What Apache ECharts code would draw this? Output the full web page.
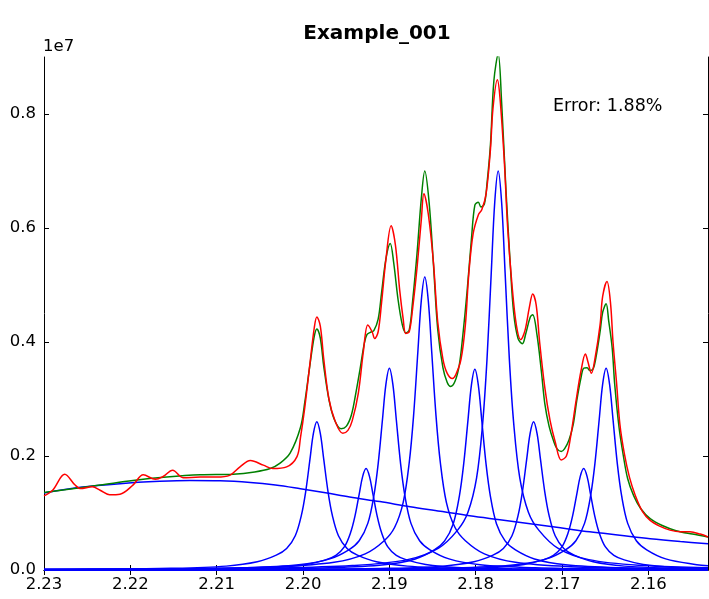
<!DOCTYPE html>
<html>
<head>
<meta charset="utf-8">
<script src="https://cdn.jsdelivr.net/npm/echarts@6.0.0/dist/echarts.min.js"></script>
<style>
html,body{margin:0;padding:0;background:#fff;}
#chart{width:709px;height:599px;}
</style>
</head>
<body>
<div id="chart"></div>
<script>
// ---- data (y in units of 1e7) ----
const xTicks = [2.16, 2.17, 2.18, 2.19, 2.20, 2.21, 2.22, 2.23];
const yTicks = [0.0, 0.2, 0.4, 0.6, 0.8];
const titleText = 'Example_001';
const errorText = 'Error: 1.88%';
const scaleText = '1e7';

const background = [[2.2300,0.135],[2.2258,0.145],[2.2212,0.1515],[2.2166,0.1555],[2.2131,0.157],[2.2096,0.1565],[2.2061,0.1535],[2.2032,0.149],[2.2003,0.1425],[2.1974,0.1355],[2.1946,0.128],[2.1911,0.120],[2.1876,0.111],[2.1841,0.103],[2.1807,0.095],[2.1772,0.088],[2.1737,0.081],[2.1702,0.074],[2.1668,0.067],[2.1633,0.061],[2.1598,0.055],[2.1563,0.050],[2.1531,0.046]];

const peak1 = [[2.2300,0.0007],[2.2247,0.0012],[2.2153,0.0029],[2.2089,0.0068],[2.2053,0.0143],[2.2031,0.0260],[2.2019,0.0377],[2.2009,0.0601],[2.2002,0.0954],[2.1997,0.1368],[2.1992,0.1940],[2.1988,0.2395],[2.1984,0.2600],[2.1980,0.2395],[2.1976,0.1940],[2.1971,0.1368],[2.1966,0.0954],[2.1959,0.0601],[2.1949,0.0377],[2.1937,0.0260],[2.1915,0.0143],[2.1879,0.0068],[2.1815,0.0029],[2.1721,0.0012],[2.1562,0.0005],[2.1531,0.0004]];
const peak2 = [[2.2300,0.0005],[2.2190,0.0009],[2.2096,0.0020],[2.2032,0.0046],[2.1996,0.0098],[2.1974,0.0178],[2.1962,0.0258],[2.1952,0.0411],[2.1945,0.0653],[2.1940,0.0936],[2.1935,0.1328],[2.1931,0.1639],[2.1927,0.1780],[2.1923,0.1639],[2.1919,0.1328],[2.1914,0.0936],[2.1909,0.0653],[2.1902,0.0411],[2.1892,0.0258],[2.1880,0.0178],[2.1858,0.0098],[2.1822,0.0046],[2.1758,0.0020],[2.1664,0.0009],[2.1531,0.0004]];
const peak3 = [[2.2300,0.0008],[2.2163,0.0017],[2.2069,0.0039],[2.2005,0.0092],[2.1969,0.0195],[2.1947,0.0354],[2.1935,0.0513],[2.1925,0.0818],[2.1918,0.1299],[2.1913,0.1862],[2.1908,0.2641],[2.1904,0.3260],[2.1900,0.3540],[2.1896,0.3260],[2.1892,0.2641],[2.1887,0.1862],[2.1882,0.1299],[2.1875,0.0818],[2.1865,0.0513],[2.1853,0.0354],[2.1831,0.0195],[2.1795,0.0092],[2.1731,0.0039],[2.1637,0.0017],[2.1531,0.0009]];
const peak4 = [[2.2300,0.0010],[2.2122,0.0025],[2.2028,0.0057],[2.1964,0.0134],[2.1928,0.0283],[2.1906,0.0514],[2.1894,0.0745],[2.1884,0.1187],[2.1877,0.1886],[2.1872,0.2704],[2.1867,0.3834],[2.1863,0.4734],[2.1859,0.5140],[2.1855,0.4734],[2.1851,0.3834],[2.1846,0.2704],[2.1841,0.1886],[2.1834,0.1187],[2.1824,0.0745],[2.1812,0.0514],[2.1790,0.0283],[2.1754,0.0134],[2.1690,0.0057],[2.1596,0.0025],[2.1531,0.0016]];
const peak5 = [[2.2300,0.0006],[2.2223,0.0007],[2.2064,0.0017],[2.1970,0.0039],[2.1906,0.0092],[2.1870,0.0194],[2.1848,0.0352],[2.1836,0.0510],[2.1826,0.0813],[2.1819,0.1292],[2.1814,0.1852],[2.1809,0.2626],[2.1805,0.3242],[2.1801,0.3520],[2.1797,0.3242],[2.1793,0.2626],[2.1788,0.1852],[2.1783,0.1292],[2.1776,0.0813],[2.1766,0.0510],[2.1754,0.0352],[2.1732,0.0194],[2.1696,0.0092],[2.1632,0.0039],[2.1531,0.0015]];
const peak6 = [[2.2300,0.0011],[2.2196,0.0014],[2.2037,0.0034],[2.1943,0.0077],[2.1879,0.0182],[2.1843,0.0385],[2.1821,0.0700],[2.1809,0.1015],[2.1799,0.1617],[2.1792,0.2569],[2.1787,0.3682],[2.1782,0.5222],[2.1778,0.6447],[2.1774,0.7000],[2.1770,0.6447],[2.1766,0.5222],[2.1761,0.3682],[2.1756,0.2569],[2.1749,0.1617],[2.1739,0.1015],[2.1727,0.0700],[2.1705,0.0385],[2.1669,0.0182],[2.1605,0.0077],[2.1531,0.0041]];
const peak7 = [[2.2300,0.0004],[2.2155,0.0005],[2.1996,0.0012],[2.1902,0.0029],[2.1838,0.0068],[2.1802,0.0143],[2.1780,0.0260],[2.1768,0.0377],[2.1758,0.0601],[2.1751,0.0954],[2.1746,0.1368],[2.1741,0.1940],[2.1737,0.2395],[2.1733,0.2600],[2.1729,0.2395],[2.1725,0.1940],[2.1720,0.1368],[2.1715,0.0954],[2.1708,0.0601],[2.1698,0.0377],[2.1686,0.0260],[2.1664,0.0143],[2.1628,0.0068],[2.1564,0.0029],[2.1531,0.0021]];
const peak8 = [[2.2300,0.0003],[2.2097,0.0004],[2.1938,0.0009],[2.1844,0.0020],[2.1780,0.0046],[2.1744,0.0098],[2.1722,0.0178],[2.1710,0.0258],[2.1700,0.0411],[2.1693,0.0653],[2.1688,0.0936],[2.1683,0.1328],[2.1679,0.1639],[2.1675,0.1780],[2.1671,0.1639],[2.1667,0.1328],[2.1662,0.0936],[2.1657,0.0653],[2.1650,0.0411],[2.1640,0.0258],[2.1628,0.0178],[2.1606,0.0098],[2.1570,0.0046],[2.1531,0.0025]];
const peak9 = [[2.2300,0.0003],[2.2071,0.0007],[2.1912,0.0017],[2.1818,0.0039],[2.1754,0.0092],[2.1718,0.0195],[2.1696,0.0354],[2.1684,0.0513],[2.1674,0.0818],[2.1667,0.1299],[2.1662,0.1862],[2.1657,0.2641],[2.1653,0.3260],[2.1649,0.3540],[2.1645,0.3260],[2.1641,0.2641],[2.1636,0.1862],[2.1631,0.1299],[2.1624,0.0818],[2.1614,0.0513],[2.1602,0.0354],[2.1580,0.0195],[2.1544,0.0092],[2.1531,0.0074]];
const zeroLine = [[2.2300,0],[2.1531,0]];

const fitSum = [[2.2300,.136],[2.2235,.149],[2.2197,.157],[2.2158,.163],[2.2119,.167],[2.2081,.168],[2.2056,.172],[2.2038,.178],[2.2027,.187],[2.2015,.205],[2.2003,.250],[2.1998,.294],[2.1992,.360],[2.1987,.410],[2.1984,.423],[2.1980,.407],[2.1976,.357],[2.1970,.299],[2.1964,.265],[2.1956,.248],[2.1950,.252],[2.1944,.272],[2.1939,.309],[2.1934,.352],[2.1929,.398],[2.1926,.413],[2.1922,.417],[2.1918,.420],[2.1913,.440],[2.1909,.487],[2.1904,.546],[2.1899,.573],[2.1895,.539],[2.1890,.475],[2.1885,.430],[2.1881,.416],[2.1877,.421],[2.1873,.473],[2.1868,.555],[2.1863,.652],[2.1859,.700],[2.1854,.645],[2.1849,.537],[2.1844,.422],[2.1838,.355],[2.1833,.329],[2.1829,.322],[2.1824,.331],[2.1819,.360],[2.1815,.411],[2.1810,.489],[2.1805,.580],[2.1801,.640],[2.1797,.645],[2.1794,.637],[2.1790,.642],[2.1787,.677],[2.1783,.745],[2.1779,.858],[2.1774,.905],[2.1770,.820],[2.1765,.667],[2.1760,.536],[2.1756,.450],[2.1751,.406],[2.1746,.397],[2.1742,.415],[2.1737,.443],[2.1734,.448],[2.1729,.412],[2.1724,.349],[2.1720,.292],[2.1715,.252],[2.1710,.227],[2.1706,.213],[2.1701,.208],[2.1697,.213],[2.1692,.228],[2.1687,.256],[2.1683,.297],[2.1678,.338],[2.1675,.354],[2.1671,.355],[2.1668,.350],[2.1664,.353],[2.1661,.371],[2.1656,.418],[2.1653,.452],[2.1649,.467],[2.1646,.437],[2.1642,.390],[2.1639,.325],[2.1634,.250],[2.1629,.200],[2.1624,.160],[2.1617,.130],[2.1609,.108],[2.1598,.090],[2.1584,.078],[2.1568,.069],[2.1549,.063],[2.1531,.058]];

const measured = [[2.2300,.130],[2.2290,.140],[2.2276,.168],[2.2264,.149],[2.2258,.143],[2.2244,.146],[2.2235,.140],[2.2224,.132],[2.2212,.133],[2.2197,.149],[2.2185,.167],[2.2171,.159],[2.2162,.164],[2.2151,.175],[2.2139,.162],[2.2119,.163],[2.2100,.163],[2.2085,.166],[2.2073,.181],[2.2061,.192],[2.2046,.184],[2.2035,.178],[2.2019,.181],[2.2007,.199],[2.2003,.232],[2.1998,.285],[2.1992,.362],[2.1987,.425],[2.1984,.444],[2.1980,.428],[2.1976,.370],[2.1970,.300],[2.1963,.262],[2.1954,.240],[2.1948,.245],[2.1943,.262],[2.1936,.310],[2.1930,.385],[2.1925,.430],[2.1920,.418],[2.1917,.406],[2.1913,.418],[2.1909,.470],[2.1904,.545],[2.1898,.604],[2.1893,.570],[2.1888,.490],[2.1884,.440],[2.1881,.415],[2.1877,.418],[2.1873,.460],[2.1868,.530],[2.1863,.615],[2.1860,.660],[2.1855,.625],[2.1849,.540],[2.1844,.435],[2.1838,.370],[2.1833,.345],[2.1827,.336],[2.1823,.343],[2.1817,.370],[2.1812,.430],[2.1808,.520],[2.1803,.590],[2.1797,.623],[2.1793,.632],[2.1788,.660],[2.1783,.737],[2.1780,.810],[2.1775,.860],[2.1772,.830],[2.1767,.720],[2.1763,.600],[2.1758,.500],[2.1753,.430],[2.1748,.404],[2.1743,.420],[2.1738,.460],[2.1734,.484],[2.1730,.465],[2.1726,.400],[2.1720,.320],[2.1714,.263],[2.1708,.225],[2.1701,.193],[2.1695,.200],[2.1690,.235],[2.1684,.295],[2.1678,.350],[2.1673,.379],[2.1670,.365],[2.1666,.345],[2.1662,.370],[2.1656,.430],[2.1653,.480],[2.1648,.506],[2.1644,.470],[2.1641,.400],[2.1637,.330],[2.1633,.255],[2.1628,.205],[2.1622,.163],[2.1615,.130],[2.1607,.103],[2.1598,.087],[2.1587,.077],[2.1575,.070],[2.1563,.067],[2.1552,.067],[2.1540,.063],[2.1531,.058]];

// ---- chart ----
const FONT = '"DejaVu Sans", sans-serif';
const X_MIN = 2.1531, X_MAX = 2.23, Y_MIN = 0, Y_MAX = 0.9;
const frameLine = { show: true, lineStyle: { color: '#000', width: 1 } };

function xAxisDef(pos, showLabel) {
  return {
    type: 'value', position: pos, inverse: true, min: X_MIN, max: X_MAX,
    axisLine: frameLine, splitLine: { show: false },
    axisTick: { show: true, inside: true, length: 5, customValues: xTicks, lineStyle: { color: '#000', width: 1 } },
    axisLabel: { show: showLabel, customValues: xTicks, formatter: v => v.toFixed(2),
      fontFamily: FONT, fontSize: 16.5, color: '#000', margin: 6 }
  };
}
function yAxisDef(pos, showLabel) {
  return {
    type: 'value', position: pos, min: Y_MIN, max: Y_MAX,
    axisLine: frameLine, splitLine: { show: false },
    axisTick: { show: true, inside: true, length: 5, customValues: yTicks, lineStyle: { color: '#000', width: 1 } },
    axisLabel: { show: showLabel, customValues: yTicks, formatter: v => v.toFixed(1),
      fontFamily: FONT, fontSize: 16.5, color: '#000', margin: 8 }
  };
}
function lineSeries(data, color, width) {
  return { type: 'line', data: data, showSymbol: false, symbol: 'none', smooth: 0.35,
    lineStyle: { color: color, width: width }, itemStyle: { color: color }, silent: true, clip: true };
}

const blue = '#0000ff';
const series = [peak1, peak2, peak3, peak4, peak5, peak6, peak7, peak8, peak9]
  .map(p => lineSeries(p, blue, 1.5));
series.push(lineSeries(background, blue, 1.5));
series.push(lineSeries(zeroLine, blue, 2));
series.push(lineSeries(fitSum, '#008000', 1.5));
series.push(lineSeries(measured, '#ff0000', 1.5));

const chart = echarts.init(document.getElementById('chart'), null, { renderer: 'canvas' });
chart.setOption({
  animation: false,
  backgroundColor: '#fff',
  grid: { left: 44, right: 1, top: 57, bottom: 29, containLabel: false },
  xAxis: [xAxisDef('bottom', true), xAxisDef('top', false)],
  yAxis: [yAxisDef('left', true), yAxisDef('right', false)],
  series: series,
  graphic: [
    { type: 'text', x: 377, y: 34, style: { text: titleText, font: 'bold 20px ' + FONT, textAlign: 'center', textVerticalAlign: 'middle', fill: '#000' } },
    { type: 'text', x: 43, y: 47, style: { text: scaleText, font: '16.5px ' + FONT, textAlign: 'left', textVerticalAlign: 'middle', fill: '#000' } },
    { type: 'text', x: 553, y: 106, style: { text: errorText, font: '17.5px ' + FONT, textAlign: 'left', textVerticalAlign: 'middle', fill: '#000' } }
  ]
});
</script>
</body>
</html>
